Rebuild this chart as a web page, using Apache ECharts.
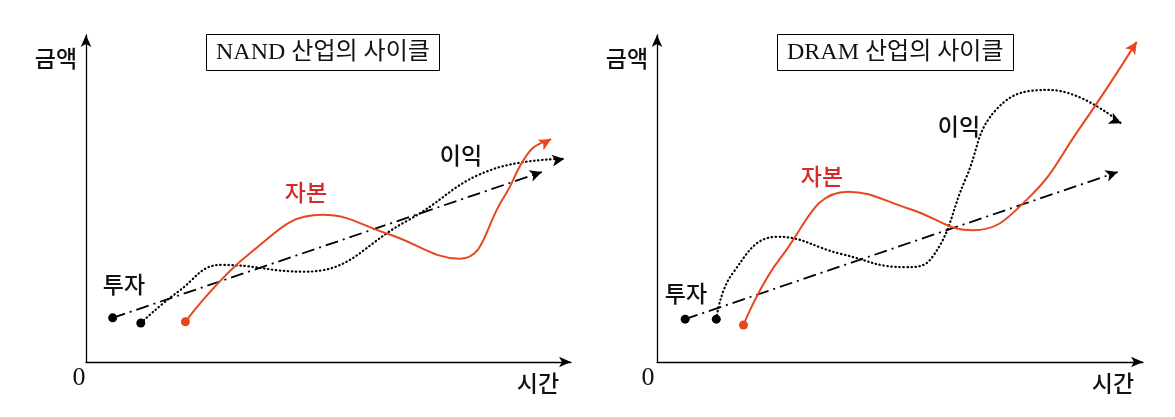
<!DOCTYPE html>
<html><head><meta charset="utf-8">
<script src="https://cdn.jsdelivr.net/npm/echarts@6/dist/echarts.min.js"></script>
<style>html,body{margin:0;padding:0;background:#fff}#c{width:1175px;height:417px}</style>
</head><body><div id="c"></div>
<script>
// Values on a 0-100 scale for both axes (concept diagram)
const nandInvest = [[5.5,13.5],[94.0,58.1]];
const nandProfit = [[11.3,11.9],[19,21.5],[28,29.7],[45,27.6],[66,43],[84,59],[98.6,62.1]];
const nandCapital = [[20.5,12.3],[34,33.5],[48.7,45.0],[62,39.3],[77,31.6],[86,50],[91.5,64.5],[95.9,68.1]];
const dramInvest = [[5.8,13.1],[94.8,58.1]];
const dramProfit = [[12.2,13.1],[15.5,27],[24.8,38.3],[38,33],[51,29],[56.5,31.8],[63.5,56],[70,77.5],[80.7,83.2],[95.5,73]];
const dramCapital = [[17.8,11.3],[25.5,32],[39.3,52.1],[52,46.8],[65,40.3],[76,49.5],[87,71.5],[98.7,97.9]];
const titles = ['NAND 산업의 사이클','DRAM 산업의 사이클'];
const axisNames = {y:'금액', x:'시간', origin:'0'};
const seriesNames = {invest:'투자', capital:'자본', profit:'이익'};

const RED = '#e8461e';
const KR = "'Noto Sans CJK KR', sans-serif";
const SERIF = "'Liberation Serif', 'Noto Sans CJK KR', serif";

const chart = echarts.init(document.getElementById('c'), null, {renderer:'canvas'});

function items(arr, startColor, rot) {
  return arr.map((p, i) => {
    if (i === 0) return {value:p, symbol:'circle', symbolSize:9, itemStyle:{color:startColor}};
    if (i === arr.length - 1) return {value:p, symbol:'arrow', symbolSize:[9,12], symbolRotate:rot || 0};
    return {value:p, symbol:'none'};
  });
}
function mkSeries(rots) {
  const defs = [
    [nandInvest, 0, 'invest'], [nandProfit, 0, 'profit'], [nandCapital, 0, 'capital'],
    [dramInvest, 1, 'invest'], [dramProfit, 1, 'profit'], [dramCapital, 1, 'capital']
  ];
  return defs.map((d, k) => {
    const kind = d[2];
    const color = kind === 'capital' ? RED : '#000';
    let ls;
    if (kind === 'invest') ls = {color:'#000', width:1.8, type:[13,5,2,5]};
    else if (kind === 'profit') ls = {color:'#000', width:2.2, type:[0.5,3.5], cap:'round'};
    else ls = {color:RED, width:2};
    return {
      type:'line', xAxisIndex:d[1], yAxisIndex:d[1],
      data: items(d[0], color, rots ? rots[k] : 0),
      smooth: kind === 'invest' ? false : 0.45,
      symbol:'none', showAllSymbol:true,
      itemStyle:{color:color}, lineStyle:ls, silent:true, animation:false, z: kind==='capital'?4:3
    };
  });
}
const axisCommon = {min:0, max:100, axisLabel:{show:false}, axisTick:{show:false}, splitLine:{show:false},
  axisLine:{onZero:false, symbol:['none','arrow'], symbolSize:[8,12], lineStyle:{color:'#000', width:1.3}}};

function txt(x, y, t, color, font, size) {
  return {type:'text', x:x, y:y, style:{text:t, fontFamily:font||KR, fontWeight:500, fontSize:size||23, fill:color||'#111', textAlign:'center', textVerticalAlign:'middle'}};
}
const graphics = [
  txt(56,58,axisNames.y), txt(79,378,axisNames.origin,null,SERIF,26), txt(538,383,axisNames.x),
  txt(627,58,axisNames.y), txt(648,378,axisNames.origin,null,SERIF,26), txt(1113,383,axisNames.x),
  txt(124,284,seriesNames.invest), txt(306,192,seriesNames.capital,'#d42a2a'), txt(461,155,seriesNames.profit),
  txt(686,293,seriesNames.invest), txt(822,176,seriesNames.capital,'#d42a2a'), txt(959,126,seriesNames.profit)
];

const option = {
  animation:false,
  backgroundColor:'#fff',
  title:[
    {text:titles[0], left:206, top:34, padding:[7,10,6,10], borderColor:'#000', borderWidth:1, textStyle:{fontFamily:SERIF, fontSize:24, fontWeight:'normal', color:'#111'}},
    {text:titles[1], left:777, top:34, padding:[7,10,6,10], borderColor:'#000', borderWidth:1, textStyle:{fontFamily:SERIF, fontSize:24, fontWeight:'normal', color:'#111'}}
  ],
  grid:[
    {left:86, top:35, width:485, height:327},
    {left:657, top:35, width:486, height:327}
  ],
  xAxis:[Object.assign({type:'value', gridIndex:0}, axisCommon), Object.assign({type:'value', gridIndex:1}, axisCommon)],
  yAxis:[Object.assign({type:'value', gridIndex:0}, axisCommon), Object.assign({type:'value', gridIndex:1}, axisCommon)],
  graphic: graphics,
  series: mkSeries(null)
};
chart.setOption(option);

// orient arrowheads along the final segment in pixel space
const all = [nandInvest, nandProfit, nandCapital, dramInvest, dramProfit, dramCapital];
const rots = all.map((arr, k) => {
  const gi = k < 3 ? 0 : 1;
  const a = chart.convertToPixel({gridIndex:gi}, arr[arr.length-2]);
  const b = chart.convertToPixel({gridIndex:gi}, arr[arr.length-1]);
  const ang = Math.atan2(-(b[1]-a[1]), b[0]-a[0]) * 180 / Math.PI;
  return ang - 90;
});
chart.setOption({series: mkSeries(rots)});
</script></body></html>
